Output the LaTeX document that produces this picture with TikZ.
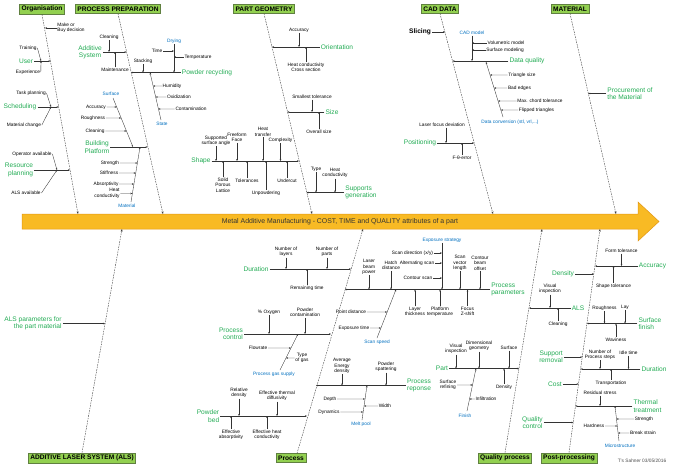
\documentclass[tikz,border=0pt]{standalone}
\usepackage{fontspec}
\setmainfont{Liberation Sans}
\usepackage{xcolor}
\usepackage{tikz}
\usetikzlibrary{arrows.meta}
\usetikzlibrary{calc}
\usetikzlibrary{positioning}
\definecolor{leafgreen}{RGB}{146,208,80}
\definecolor{leafedge}{RGB}{96,128,64}
\definecolor{causegreen}{RGB}{34,172,84}
\definecolor{groupblue}{RGB}{0,112,192}
\definecolor{spineamber}{RGB}{248,186,36}
\definecolor{spineedge}{RGB}{226,150,20}
\tikzset{%
  catbox/.style={rectangle,fill=leafgreen,draw=leafedge,line width=0.6pt,inner sep=2pt,font=\bfseries\fontsize{6.6}{7.5}\selectfont}
}
\tikzset{%
  cause/.style={text=causegreen,inner sep=1pt,align=center,font=\fontsize{6.6}{7.4}\selectfont},
  detail/.style={inner sep=0.6pt,align=center,font=\fontsize{4.8}{5.4}\selectfont},
  group/.style={detail,text=groupblue},
  bone/.style={draw=black!75,line width=0.4pt,dash pattern=on 1.6pt off 1pt,-{Stealth[length=2.6pt,width=2pt]}},
  twig/.style={draw=black!80,line width=0.35pt,-{Stealth[length=2pt,width=1.6pt]}}
}
\newcommand\spinetext{Metal Additive Manufacturing - COST, TIME and QUALITY attributes of a part}

\begin{document}
\begin{tikzpicture}[x=1pt,y=-1pt]
  \useasboundingbox (0,0) rectangle (674,467);
  \fill[white] (0,0) rectangle (674,467);

  \filldraw[fill=spineamber,draw=spineedge,line width=0.5pt] (22,214) -- (638,214) -- (638,202) -- (659,221.5) -- (638,241) -- (638,229) -- (22,229) -- cycle;
  \node[font=\fontsize{6.9}{7.6}\selectfont,text=black!80] (spine) at (340,221.5) {\spinetext};

  \node[catbox] (org) at (42,9) {Organisation};
  \node[catbox] (prep) at (118,9) {PROCESS PREPARATION};
  \node[catbox] (geom) at (264,9) {PART GEOMETRY};
  \node[catbox] (cad) at (440,9) {CAD DATA};
  \node[catbox] (mat) at (570,9) {MATERIAL};
  \node[catbox] (als) at (82,458) {ADDITIVE LASER SYSTEM (ALS)};
  \node[catbox] (proc) at (291,458) {Process};
  \node[catbox] (qual) at (505,458) {Quality process};
  \node[catbox] (post) at (569,458) {Post-processing};

  \coordinate (orgbone) at (78,214);
  \coordinate (prepbone) at (163,214);
  \coordinate (geombone) at (312,214);
  \coordinate (cadbone) at (493,214);
  \coordinate (matbone) at (616,214);
  \coordinate (alsbone) at (122,229);
  \coordinate (procbone) at (363,229);
  \coordinate (qualbone) at (542,229);
  \coordinate (postbone) at (600,229);
  \draw[bone] (org.south) -- (orgbone);
  \draw[bone] (prep.south) -- (prepbone);
  \draw[bone] (geom.south) -- (geombone);
  \draw[bone] (cad.south) -- (cadbone);
  \draw[bone] (mat.south) -- (matbone);
  \draw[bone] (als.north) -- (alsbone);
  \draw[bone] ([xshift=6pt]proc.north) -- (procbone);
  \draw[bone] (qual.north) -- (qualbone);
  \draw[bone] (post.north) -- (postbone);

  % Organisation
  \node[detail,align=left] (makebuy) at (71,28) {Make or\\Buy decision};
  \coordinate (makebuy-in) at (45,28);
  \draw[twig] (makebuy) -- (makebuy-in);
  \node[cause] (user) at (26,61) {User};
  \coordinate (user-in) at (50.5,61);
  \coordinate (user-tw) at (41,61);
  \draw[twig] (user) -- (user-in);
  \node[detail] (training) at (28,48) {Training};
  \node[detail] (experience) at (28,72) {Experience};
  \draw[twig] (training.east) -- (user-tw);
  \draw[twig] (experience.east) -- (user-tw);
  \node[cause] (sched) at (20,107) {Scheduling};
  \coordinate (sched-in) at (58.7,107);
  \coordinate (sched-tw) at (51,107);
  \draw[twig] (sched) -- (sched-in);
  \node[detail] (taskplan) at (31,93) {Task planning};
  \node[detail] (matchange) at (24,125) {Material change};
  \draw[twig] (taskplan.east) -- (sched-tw);
  \draw[twig] (matchange.east) -- (sched-tw);
  \node[cause,align=right] (resource) at (19,170) {Resource\\planning};
  \coordinate (resource-in) at (70,170);
  \coordinate (resource-tw) at (57,170);
  \draw[twig] (resource) -- (resource-in);
  \node[detail] (operator) at (32,154) {Operator available};
  \node[detail] (alsavail) at (26,193) {ALS available};
  \draw[twig] (operator.east) -- (resource-tw);
  \draw[twig] (alsavail.east) -- (resource-tw);

  % Process preparation
  \node[cause] (addsys) at (90,52) {Additive\\System};
  \coordinate (addsys-in) at (126.5,52);
  \draw[twig] (addsys) -- (addsys-in);
  \node[detail] (clean1) at (109,37) {Cleaning};
  \node[detail] (maint) at (115,70) {Maintenance};
  \draw[twig] (clean1) -- (clean1 |- addsys-in);
  \draw[twig] (maint) -- (maint |- addsys-in);
  \node[cause] (recycling) at (207,72.5) {Powder recycling};
  \coordinate (recycling-in) at (131,72.5);
  \draw[twig] (recycling) -- (recycling-in);
  \node[group] (drying) at (174,41) {Drying};
  \draw[twig] (drying) -- (drying |- recycling-in);
  \node[detail] (time) at (157,51) {Time};
  \node[detail] (temp) at (198,57) {Temperature};
  \draw[twig] (time) -- (time -| drying);
  \draw[twig] (temp) -- (temp -| drying);
  \node[detail] (stacking) at (143,61) {Stacking};
  \draw[twig] (stacking) -- (stacking |- recycling-in);
  \coordinate (state-top) at (150,72.5);
  \coordinate (state-bot) at (161,120);
  \node[group] (state) at (162,124) {State};
  \draw[twig] (state-bot) -- (state-top);
  \node[detail] (humidity) at (172,86) {Humidity};
  \node[detail] (oxid) at (179,97) {Oxidization};
  \node[detail] (contam) at (191,109) {Contamination};
  \draw[twig] (humidity) -- ($(state-top)!0.284!(state-bot)$);
  \draw[twig] (oxid) -- ($(state-top)!0.516!(state-bot)$);
  \draw[twig] (contam) -- ($(state-top)!0.768!(state-bot)$);
  \node[cause] (platform) at (97,147) {Building\\Platform};
  \coordinate (platform-in) at (147.7,147);
  \draw[twig] (platform) -- (platform-in);
  \coordinate (surface-top) at (113,98);
  \coordinate (surface-bot) at (133,147);
  \node[group] (surface) at (111,94) {Surface};
  \draw[twig] (surface-top) -- (surface-bot);
  \node[detail] (acc1) at (96,107) {Accuracy};
  \node[detail] (rough1) at (93,118) {Roughness};
  \node[detail] (clean2) at (95,131) {Cleaning};
  \draw[twig] (acc1) -- ($(surface-top)!0.184!(surface-bot)$);
  \draw[twig] (rough1) -- ($(surface-top)!0.408!(surface-bot)$);
  \draw[twig] (clean2) -- ($(surface-top)!0.673!(surface-bot)$);
  \coordinate (material-top) at (140,147);
  \coordinate (material-bot) at (131,202);
  \node[group] (material) at (127,206) {Material};
  \draw[twig] (material-bot) -- (material-top);
  \node[detail] (strength1) at (110,163) {Strength};
  \node[detail] (stiff) at (109,173) {Stiffness};
  \node[detail] (absorb) at (106,184) {Absorptivity};
  \node[detail,align=right] (heatcond1) at (107,193.5) {Heat\\conductivity};
  \draw[twig] (strength1) -- ($(material-top)!0.291!(material-bot)$);
  \draw[twig] (stiff) -- ($(material-top)!0.473!(material-bot)$);
  \draw[twig] (absorb) -- ($(material-top)!0.673!(material-bot)$);
  \draw[twig] (heatcond1) -- ($(material-top)!0.845!(material-bot)$);

  % Part geometry
  \node[cause] (orient) at (337,47) {Orientation};
  \coordinate (orient-in) at (272,47);
  \draw[twig] (orient) -- (orient-in);
  \node[detail] (geoacc) at (299,30) {Accuracy};
  \node[detail] (crosssec) at (306,67.5) {Heat conductivity\\Cross section};
  \draw[twig] (geoacc) -- (geoacc |- orient-in);
  \draw[twig] (crosssec) -- (crosssec |- orient-in);
  \node[cause] (size) at (332,112) {Size};
  \coordinate (size-in) at (287.4,112);
  \draw[twig] (size) -- (size-in);
  \node[detail] (smallest) at (312,97) {Smallest tolerance};
  \node[detail] (overall) at (319,132) {Overall size};
  \draw[twig] (smallest) -- (smallest |- size-in);
  \draw[twig] (overall) -- (overall |- size-in);
  \node[cause] (shape) at (201,161) {Shape};
  \coordinate (shape-in) at (299,161);
  \draw[twig] (shape) -- (shape-in);
  \node[detail] (supported) at (216,140.5) {Supported\\surface angle};
  \node[detail] (freeform) at (237,137.5) {Freeform\\Face};
  \node[detail] (heattrans) at (263,132) {Heat\\transfer};
  \node[detail] (complexity) at (280.5,140) {Complexity};
  \node[detail] (solid) at (223,185) {Solid\\Porous\\Lattice};
  \node[detail] (tolerances) at (247,181) {Tolerances};
  \node[detail] (unpowder) at (266,193) {Unpowdering};
  \node[detail] (undercut) at (287,181) {Undercut};
  \foreach \n in {supported,freeform,heattrans,complexity,solid,tolerances,unpowder,undercut}
    \draw[twig] (\n) -- (\n |- shape-in);
  \node[cause,align=left] (supports) at (361,192.5) {Supports\\generation};
  \coordinate (supports-in) at (306.5,192.5);
  \draw[twig] (supports) -- (supports-in);
  \node[detail] (type1) at (316,169) {Type};
  \node[detail] (heatcond2) at (335,173) {Heat\\conductivity};
  \draw[twig] (type1) -- (type1 |- supports-in);
  \draw[twig] (heatcond2) -- (heatcond2 |- supports-in);

  % CAD data
  \node[font=\bfseries\fontsize{6.6}{7.4}\selectfont,inner sep=1pt] (slicing) at (420,32) {Slicing};
  \coordinate (slicing-in) at (445,32);
  \draw[twig] (slicing) -- (slicing-in);
  \node[cause] (dataq) at (527,61) {Data quality};
  \coordinate (dataq-in) at (452.5,61);
  \draw[twig] (dataq) -- (dataq-in);
  \node[group] (cadmodel) at (472,33) {CAD model};
  \draw[twig] (cadmodel) -- (cadmodel |- dataq-in);
  \node[detail] (volumetric) at (506,43) {Volumetric model};
  \node[detail] (surfmodel) at (505,50) {Surface modeling};
  \draw[twig] (volumetric) -- (volumetric -| cadmodel);
  \draw[twig] (surfmodel) -- (surfmodel -| cadmodel);
  \coordinate (conv-top) at (486,62);
  \coordinate (conv-bot) at (503,117);
  \node[group] (conversion) at (510,122) {Data conversion (stl, vrl,...)};
  \draw[twig] (conv-bot) -- (conv-top);
  \node[detail] (trisize) at (522,75) {Triangle size};
  \node[detail] (badedges) at (519.5,88) {Bad edges};
  \node[detail] (chord) at (540,101) {Max. chord tolerance};
  \node[detail] (flipped) at (536.5,110) {Flipped triangles};
  \draw[twig] (trisize) -- ($(conv-top)!0.236!(conv-bot)$);
  \draw[twig] (badedges) -- ($(conv-top)!0.473!(conv-bot)$);
  \draw[twig] (chord) -- ($(conv-top)!0.709!(conv-bot)$);
  \draw[twig] (flipped) -- ($(conv-top)!0.873!(conv-bot)$);
  \node[cause] (position) at (420,143) {Positioning};
  \coordinate (position-in) at (474.2,143);
  \draw[twig] (position) -- (position-in);
  \node[detail] (focusdev) at (442,125) {Laser focus deviation};
  \node[detail] (ftheta) at (462,158) {F-θ-error};
  \draw[twig] ([xshift=4pt]focusdev.south) -- ([xshift=4pt]focusdev.south |- position-in);
  \draw[twig] (ftheta) -- (ftheta |- position-in);

  % Material
  \node[cause,align=left] (procure) at (630,93.5) {Procurement of\\the Material};
  \coordinate (procure-in) at (588.2,93.5);
  \draw[twig] (procure) -- (procure-in);

  % Additive laser system
  \node[cause,align=right] (alsparams) at (33,323.5) {ALS parameters for\\the part material};
  \coordinate (alsparams-in) at (105,323.5);
  \draw[twig] (alsparams) -- (alsparams-in);

  % Process
  \node[cause] (duration) at (256,269) {Duration};
  \coordinate (duration-in) at (351,269);
  \draw[twig] (duration) -- (duration-in);
  \node[detail] (nlayers) at (286,252) {Number of\\layers};
  \node[detail] (nparts) at (327,252) {Number of\\parts};
  \node[detail] (remaining) at (307,288) {Remaining time};
  \foreach \n in {nlayers,nparts,remaining}
    \draw[twig] (\n) -- (\n |- duration-in);
  \node[cause,align=left] (params) at (508,289.5) {Process\\parameters};
  \coordinate (params-in) at (345,289.5);
  \draw[twig] (params) -- (params-in);
  \node[detail] (power) at (369,267) {Laser\\beam\\power};
  \node[detail] (hatch) at (391,265.5) {Hatch\\distance};
  \node[detail] (scanvec) at (460,263) {Scan\\vector\\length};
  \node[detail] (beamoff) at (480,263) {Contour\\beam\\offset};
  \node[detail] (layer) at (415,311.5) {Layer\\thickness};
  \node[detail] (ptemp) at (440,311.5) {Platform\\temperature};
  \node[detail] (focus) at (467.5,311.5) {Focus\\Z-shift};
  \foreach \n in {power,hatch,scanvec,beamoff,layer,ptemp,focus}
    \draw[twig] (\n) -- (\n |- params-in);
  \node[group] (exposure) at (442,240) {Exposure strategy};
  \draw[twig] (exposure) -- (exposure |- params-in);
  \node[detail] (scandir) at (412.5,253) {Scan direction (x/y)};
  \node[detail] (alternating) at (417,263) {Alternating scan};
  \node[detail] (contour) at (418,278) {Contour scan};
  \foreach \n in {scandir,alternating,contour}
    \draw[twig] (\n) -- (\n -| exposure);
  \coordinate (speed-top) at (396,289.5);
  \coordinate (speed-bot) at (377,338);
  \node[group] (scanspeed) at (377,342) {Scan speed};
  \draw[twig] (speed-bot) -- (speed-top);
  \node[detail] (pointdist) at (351,312) {Point distance};
  \node[detail] (exptime) at (354,328) {Exposure time};
  \draw[twig] (pointdist) -- ($(speed-top)!0.464!(speed-bot)$);
  \draw[twig] (exptime) -- ($(speed-top)!0.794!(speed-bot)$);
  \node[cause,align=right] (pcontrol) at (231,334) {Process\\control};
  \coordinate (pcontrol-in) at (331,334);
  \draw[twig] (pcontrol) -- (pcontrol-in);
  \node[detail] (oxygen) at (269,312) {\% Oxygen};
  \node[detail] (powdcont) at (305,312.5) {Powder\\contamination};
  \draw[twig] (oxygen) -- (oxygen |- pcontrol-in);
  \draw[twig] (powdcont) -- (powdcont |- pcontrol-in);
  \coordinate (gas-top) at (298,334);
  \coordinate (gas-bot) at (280,370);
  \node[group] (gas) at (274,374) {Process gas supply};
  \draw[twig] (gas-bot) -- (gas-top);
  \node[detail] (flowrate) at (258,348) {Flowrate};
  \node[detail] (typegas) at (302,358) {Type\\of gas};
  \draw[twig] (flowrate) -- ($(gas-top)!0.389!(gas-bot)$);
  \draw[twig] (typegas) -- ($(gas-top)!0.667!(gas-bot)$);
  \node[cause] (response) at (419,385.5) {Process\\reponse};
  \coordinate (response-in) at (316,385.5);
  \draw[twig] (response) -- (response-in);
  \node[detail] (avgenergy) at (342,366) {Average\\Energy\\density};
  \node[detail] (spatter) at (386,367) {Powder\\spattering};
  \draw[twig] (avgenergy) -- (avgenergy |- response-in);
  \draw[twig] (spatter) -- (spatter |- response-in);
  \coordinate (melt-top) at (367,385.5);
  \coordinate (melt-bot) at (362,420);
  \node[group] (meltpool) at (361,424) {Melt pool};
  \draw[twig] (melt-bot) -- (melt-top);
  \node[detail] (depth) at (330,399) {Depth};
  \node[detail] (dynamics) at (329,412) {Dynamics};
  \node[detail] (width) at (385,406) {Width};
  \draw[twig] (depth) -- ($(melt-top)!0.391!(melt-bot)$);
  \draw[twig] (dynamics) -- ($(melt-top)!0.768!(melt-bot)$);
  \draw[twig] (width) -- ($(melt-top)!0.594!(melt-bot)$);
  \node[cause,align=right] (pbed) at (208,416) {Powder\\bed};
  \coordinate (pbed-in) at (307,416);
  \draw[twig] (pbed) -- (pbed-in);
  \node[detail] (reldensity) at (239,393) {Relative\\density};
  \node[detail] (thermdiff) at (277,396) {Effective thermal\\diffusivity};
  \node[detail] (effabs) at (231,435) {Effective\\absorptivity};
  \node[detail] (effheat) at (267,435) {Effective heat\\conductivity};
  \foreach \n in {reldensity,thermdiff,effabs,effheat}
    \draw[twig] (\n) -- (\n |- pbed-in);

  % Quality process
  \node[cause] (alsq) at (578,308) {ALS};
  \coordinate (alsq-in) at (529,308);
  \draw[twig] (alsq) -- (alsq-in);
  \node[detail] (visual1) at (550,289) {Visual\\inspection};
  \node[detail] (clean3) at (558,324) {Cleaning};
  \draw[twig] (visual1) -- (visual1 |- alsq-in);
  \draw[twig] (clean3) -- (clean3 |- alsq-in);
  \node[cause] (part) at (442,368.5) {Part};
  \coordinate (part-in) at (519,368.5);
  \draw[twig] (part) -- (part-in);
  \node[detail] (visual2) at (456,349) {Visual\\inspection};
  \node[detail] (dimgeom) at (479,346) {Dimensional\\geometry};
  \node[detail] (surface2) at (509,348) {Surface};
  \node[detail] (density2) at (504,387) {Density};
  \foreach \n in {visual2,dimgeom,surface2,density2}
    \draw[twig] (\n) -- (\n |- part-in);
  \coordinate (finish-top) at (476,368.5);
  \coordinate (finish-bot) at (467,411);
  \node[group] (finish) at (465,416) {Finish};
  \draw[twig] (finish-bot) -- (finish-top);
  \node[detail] (refining) at (448,385) {Surface\\refining};
  \node[detail] (infiltration) at (486,399) {Infiltration};
  \draw[twig] (refining) -- ($(finish-top)!0.388!(finish-bot)$);
  \draw[twig] (infiltration) -- ($(finish-top)!0.718!(finish-bot)$);

  % Post-processing
  \node[cause] (accuracy) at (652.5,266) {Accuracy};
  \coordinate (accuracy-in) at (595,266);
  \draw[twig] (accuracy) -- (accuracy-in);
  \node[detail] (formtol) at (621.5,251) {Form tolerance};
  \node[detail] (shapetol) at (613.5,286) {Shape tolerance};
  \draw[twig] (formtol) -- (formtol |- accuracy-in);
  \draw[twig] (shapetol) -- (shapetol |- accuracy-in);
  \node[cause] (density) at (563,274) {Density};
  \coordinate (density-in) at (593.9,274);
  \draw[twig] (density) -- (density-in);
  \node[cause,align=left] (sfinish) at (650,323.5) {Surface\\finish};
  \coordinate (sfinish-in) at (587,323.5);
  \draw[twig] (sfinish) -- (sfinish-in);
  \node[detail] (rough2) at (604.5,308) {Roughness};
  \node[detail] (lay) at (625,307) {Lay};
  \node[detail] (waviness) at (616,340) {Waviness};
  \foreach \n in {rough2,lay,waviness}
    \draw[twig] (\n) -- (\n |- sfinish-in);
  \node[cause,align=right] (support) at (551,357) {Support\\removal};
  \coordinate (support-in) at (582.3,357);
  \draw[twig] (support) -- (support-in);
  \node[cause] (pduration) at (654,369) {Duration};
  \coordinate (pduration-in) at (580.7,369);
  \draw[twig] (pduration) -- (pduration-in);
  \node[detail] (nsteps) at (600,354.5) {Number of\\Process steps};
  \node[detail] (idle) at (628.5,353) {Idle time};
  \node[detail] (transport) at (611,383) {Transportation};
  \foreach \n in {nsteps,idle,transport}
    \draw[twig] (\n) -- (\n |- pduration-in);
  \node[cause] (cost) at (555,384) {Cost};
  \coordinate (cost-in) at (578.6,384);
  \draw[twig] (cost) -- (cost-in);
  \node[cause,align=left] (thermal) at (647.5,406) {Thermal\\treatment};
  \coordinate (thermal-in) at (575.4,406);
  \draw[twig] (thermal) -- (thermal-in);
  \node[detail] (residual) at (600,393) {Residual stress};
  \draw[twig] (residual) -- (residual |- thermal-in);
  \coordinate (micro-top) at (615,406);
  \coordinate (micro-bot) at (619,441);
  \node[group] (micro) at (620,446) {Microstructure};
  \draw[twig] (micro-bot) -- (micro-top);
  \node[detail] (strength2) at (644,419) {Strength};
  \node[detail] (breakstrain) at (643,433) {Break strain};
  \node[detail] (hardness) at (594,426) {Hardness};
  \draw[twig] (strength2) -- ($(micro-top)!0.371!(micro-bot)$);
  \draw[twig] (breakstrain) -- ($(micro-top)!0.771!(micro-bot)$);
  \draw[twig] (hardness) -- ($(micro-top)!0.571!(micro-bot)$);
  \node[cause] (qcontrol) at (532.5,422.5) {Quality\\control};
  \coordinate (qcontrol-in) at (573.3,422.5);
  \draw[twig] (qcontrol) -- (qcontrol-in);

  \node[detail,text=black!70] (credit) at (642,461) {T's Sahner 03/05/2016};
\end{tikzpicture}
\end{document}
